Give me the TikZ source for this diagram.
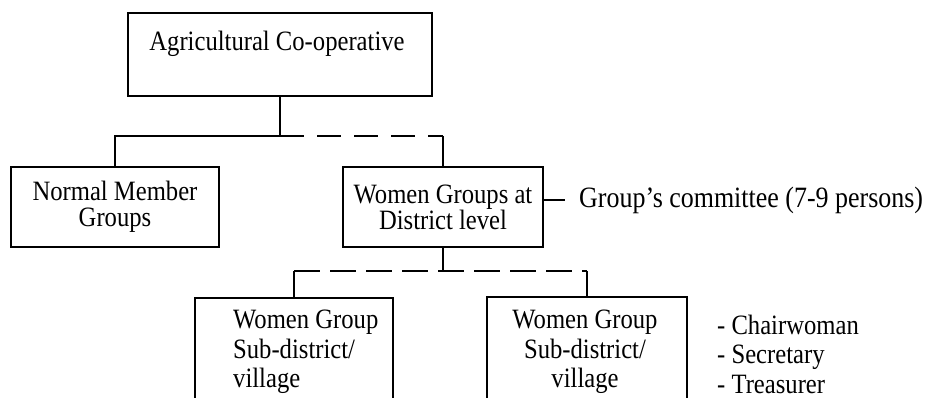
\documentclass[tikz,border=0pt]{standalone}
\usepackage{fontspec}
\setmainfont{Liberation Serif}[FakeStretch=0.88]
\begin{document}
\begin{tikzpicture}[x=1pt,y=-1pt,
  box/.style={draw, line width=1.2pt, inner sep=0pt},
  txt/.style={font=\fontsize{28}{26}\selectfont, inner sep=0pt, align=center},
  ltxt/.style={font=\fontsize{28}{29.5}\selectfont, inner sep=0pt},
  conn/.style={line width=1.4pt},
  dconn/.style={line width=1.8pt, dash pattern=on 24pt off 13pt}]
\fill[white] (0,0) rectangle (931,398);
\clip (0,0) rectangle (931,398);
% boxes
\node[box, minimum width=304pt, minimum height=83pt] (top) at (280,54.5) {};
\node[txt] (toptxt) at (277,44) {Agricultural Co-operative};
\node[box, txt, minimum width=208pt, minimum height=80pt] (nm) at (115,207) {Normal Member\\Groups};
\node[box, txt, minimum width=200pt, minimum height=80pt] (wgd) at (443,207) {Women Groups at\\District level};
\node[box, minimum width=198pt, minimum height=130pt] (bl) at (294,363) {};
\node[box, minimum width=200pt, minimum height=130pt] (br) at (587,362) {};
% texts
\node[ltxt, align=left, anchor=west] (bltxt) at (233,352) {Women Group\\Sub-district/\\village};
\node[ltxt, align=center] (brtxt) at (585,352) {Women Group\\Sub-district/\\village};
\node[ltxt, align=left, anchor=west] (list) at (717,354) {- Chairwoman\\- Secretary\\- Treasurer};
\node[txt, font=\fontsize{29.5}{30}\selectfont, anchor=west] (gc) at (579,200) {Group's committee (7-9 persons)};
% connectors
\coordinate (r1) at (0,136);
\coordinate (r2) at (0,271);
\draw[conn] (top.south) -- (top.south |- r1) -| (nm.north);
\draw[dconn] (top.south |- r1) -- (wgd.north |- r1);
\draw[conn] (wgd.north |- r1) -- (wgd.north);
\draw[conn] (wgd.east |- gc.west) -- ([xshift=-14pt]gc.west);
\draw[conn] (wgd.south) -- (wgd.south |- r2);
\draw[dconn, dash pattern=on 26pt off 10pt] (bl.north |- r2) -- (br.north |- r2);
\draw[conn] (bl.north |- r2) -- (bl.north);
\draw[conn] (br.north |- r2) -- (br.north);
\end{tikzpicture}
\end{document}
